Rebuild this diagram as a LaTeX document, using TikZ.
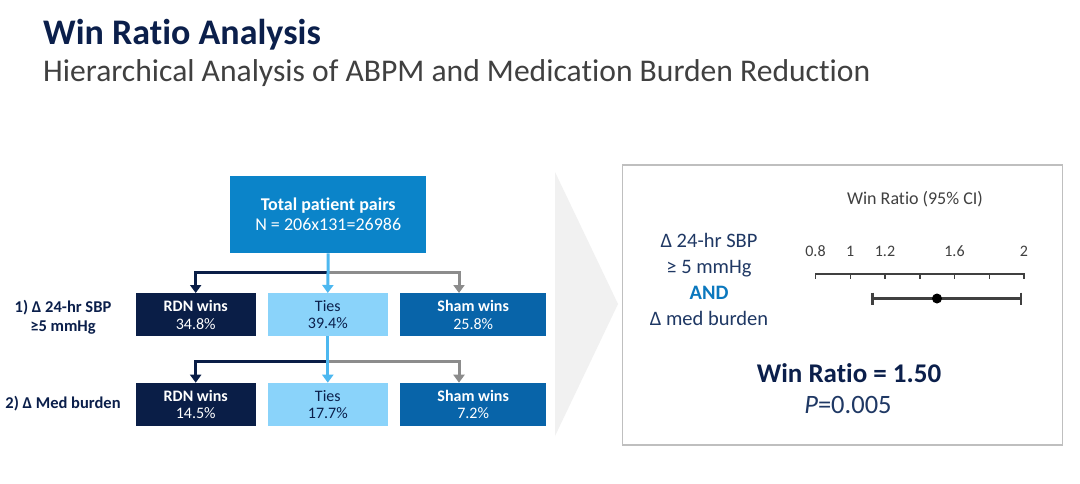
\documentclass[tikz,border=0pt]{standalone}
\usepackage{fontspec}
\setmainfont{Carlito}[Ligatures={NoCommon,NoRequired,NoContextual}]
\usetikzlibrary{arrows.meta}
\definecolor{navy}{HTML}{0B1F4B}
\definecolor{rdnc}{HTML}{0A1E47}
\definecolor{tiesc}{HTML}{8AD3FA}
\definecolor{shamc}{HTML}{0864A9}
\definecolor{totalc}{HTML}{0B84C9}
\definecolor{tieline}{HTML}{4DB8F0}
\definecolor{greyline}{HTML}{8C8C8C}
\definecolor{subgrey}{HTML}{404040}
\definecolor{chev}{HTML}{F1F1F1}
\definecolor{andc}{HTML}{0B78BE}
\definecolor{panelnavy}{HTML}{1F3864}
\definecolor{axisgrey}{HTML}{404040}
\begin{document}
\begin{tikzpicture}[x=1pt,y=-1pt,
  box/.style={minimum width=#1, minimum height=43pt, inner sep=0pt, align=center,
    font=\fontsize{16}{17.5}\selectfont, anchor=north west},
  rdnbox/.style={box=120pt, fill=rdnc, text=white},
  tiebox/.style={box=120pt, fill=tiesc, text=navy},
  shambox/.style={box=146pt, fill=shamc, text=white},
  conn/.style={line width=3pt, -{Triangle[width=11pt,length=8pt]}},
  rowlabel/.style={font=\fontsize{16.5}{19}\selectfont\bfseries, text=navy, align=center},
  paneltext/.style={font=\fontsize{20.5}{25.7}\selectfont, text=panelnavy, align=center},
  ticklabel/.style={font=\fontsize{16}{18}\selectfont, text=axisgrey, anchor=base}
]
\fill[white] (0,0) rectangle (1080,483);
\useasboundingbox (0,0) rectangle (1080,483);

% titles
\node[anchor=base west, inner sep=0pt, text=navy, font=\fontsize{36}{40}\selectfont\bfseries] (title) at (43,44) {Win Ratio Analysis};
\node[anchor=base west, inner sep=0pt, text=subgrey, font=\fontsize{31.6}{36}\selectfont] (subtitle) at (43,81) {Hierarchical Analysis of ABPM and Medication Burden Reduction};

% chevron
\fill[chev] (555,172) -- (618,304) -- (555,436) -- cycle;

% flow boxes
\node[anchor=north west, minimum width=196pt, minimum height=77pt, inner sep=0pt, fill=totalc, text=white, align=center, font=\fontsize{18}{20}\selectfont] (total) at (230,176) {\textbf{Total patient pairs}\\N = 206x131=26986};

\node[rdnbox] (rdn1) at (135.5,293) {\textbf{RDN wins}\\34.8\%};
\node[tiebox] (ties1) at (267.6,293) {Ties\\39.4\%};
\node[shambox] (sham1) at (400,293) {\textbf{Sham wins}\\25.8\%};

\node[rdnbox] (rdn2) at (135.5,382.7) {\textbf{RDN wins}\\14.5\%};
\node[tiebox] (ties2) at (267.6,382.7) {Ties\\17.7\%};
\node[shambox] (sham2) at (400,382.7) {\textbf{Sham wins}\\7.2\%};

\node[rowlabel] (lab1) at (63,317) {1) Δ 24-hr SBP\\≥5 mmHg};
\node[rowlabel] (lab2) at (63,404) {2) Δ Med burden};

% connectors level 1
\coordinate (b1) at (327.6,272);
\coordinate (s1) at (459,293);
\draw[conn, rdnc] (b1) -| (rdn1.north);
\draw[conn, greyline] (b1) -| (s1);
\draw[conn, tieline] (total.south) -- (ties1.north);
% level 2
\coordinate (b2) at (327.6,361);
\coordinate (s2) at (459,382.7);
\draw[conn, rdnc] (b2) -| (rdn2.north);
\draw[conn, greyline] (b2) -| (s2);
\draw[conn, tieline] (ties1.south) -- (ties2.north);

% right panel
\node[draw=black!25, line width=1.5pt, fill=white, anchor=north west, minimum width=440pt, minimum height=280pt, inner sep=0pt] (panel) at (621.5,164) {};
\node[font=\fontsize{18}{20}\selectfont, text=subgrey, anchor=base] (wrlab) at (915,204) {Win Ratio (95\% CI)};

\node[paneltext, anchor=base] (cond) at (709,325) {Δ 24-hr SBP\\≥ 5 mmHg\\{\bfseries\color{andc}AND}\\Δ med burden};

% axis
\foreach \v/\t in {0.8/0.8,1.0/1,1.2/1.2,1.6/1.6,2.0/2} {
  \node[ticklabel] at ({815.5+(\v-0.8)*173.75},256) {\t};
}
\draw[axisgrey, line width=1.5pt] (815.5,274) -- (1024,274);
\foreach \v in {0.8,1.0,...,2.01} {
  \draw[axisgrey, line width=1.5pt] ({815.5+(\v-0.8)*173.75},273.3) -- ++(0,6);
}
\coordinate (cil) at (872.7,298.5);
\coordinate (cir) at (1021.2,298.5);
\draw[axisgrey, line width=3pt] (cil) -- (cir);
\draw[axisgrey, line width=2.5pt] (cil) ++(0,-6) -- ++(0,12);
\draw[axisgrey, line width=2.5pt] (cir) ++(0,-6) -- ++(0,12);
\fill[black] (937,298.5) circle (5pt);

\node[font=\fontsize{27}{30}\selectfont\bfseries, text=navy, anchor=base] (wr) at (849,382) {Win Ratio = 1.50};
\node[font=\fontsize{26.5}{30}\selectfont, text=panelnavy, anchor=base] (pval) at (848,413) {\textit{P}=0.005};
\end{tikzpicture}
\end{document}
